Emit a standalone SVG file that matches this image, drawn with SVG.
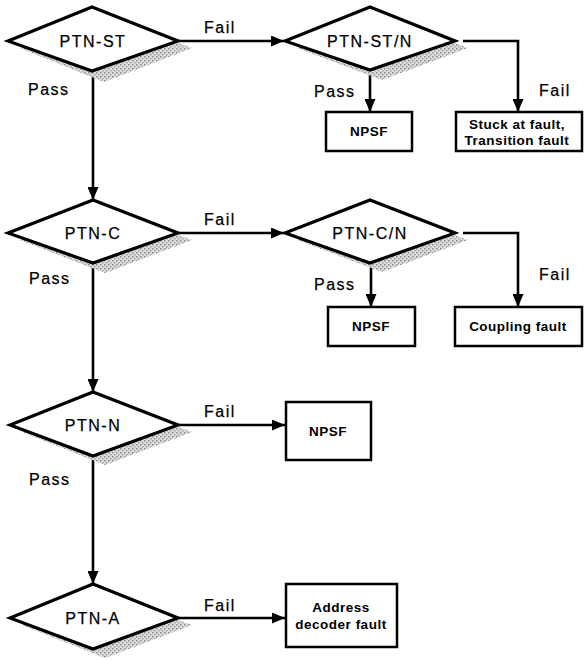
<svg xmlns="http://www.w3.org/2000/svg" width="584" height="660" viewBox="0 0 584 660">
<defs>
  <marker id="arr" markerUnits="userSpaceOnUse" markerWidth="13" markerHeight="11" refX="13" refY="5.5" orient="auto">
    <path d="M0,0 L13,5.5 L0,11 z" fill="#000"/>
  </marker>
  <pattern id="stip" width="4" height="4" patternUnits="userSpaceOnUse">
    <rect width="4" height="4" fill="#dcdcdc"/>
    <rect x="0" y="0" width="1.5" height="1.5" fill="#8a8a8a"/>
    <rect x="2" y="2" width="1.5" height="1.5" fill="#a0a0a0"/>
  </pattern>
</defs>
<style>
  .dia { fill: #fff; stroke: #000; stroke-width: 3.2; stroke-linejoin: miter; }
  .shadow { fill: url(#stip); stroke: none; }
  .box { fill: #fff; stroke: #000; stroke-width: 2.5; }
  .lbl { font-family: "Liberation Sans", Arial, sans-serif; font-size: 16px; letter-spacing: 1.5px; fill: #000; stroke: #000; stroke-width: 0.25; }
  .dt { font-family: "Liberation Sans", Arial, sans-serif; font-size: 16px; letter-spacing: 1.5px; fill: #000; stroke: #000; stroke-width: 0.25; text-anchor: middle; }
  .bt { font-family: "Liberation Sans", Arial, sans-serif; font-size: 13.5px; font-weight: bold; letter-spacing: 0.5px; fill: #000; text-anchor: middle; }
  .con { fill: none; stroke: #000; stroke-width: 2.6; }
</style>
<rect width="584" height="660" fill="#fff"/>

<g id="connectors">
  <line class="con" x1="93" y1="72" x2="93" y2="200" marker-end="url(#arr)"/>
  <line class="con" x1="93" y1="264" x2="93" y2="392" marker-end="url(#arr)"/>
  <line class="con" x1="93" y1="457" x2="93" y2="584" marker-end="url(#arr)"/>
  <line class="con" x1="178" y1="41" x2="284" y2="41" marker-end="url(#arr)"/>
  <line class="con" x1="178" y1="233" x2="284" y2="233" marker-end="url(#arr)"/>
  <line class="con" x1="178" y1="425" x2="285" y2="425" marker-end="url(#arr)"/>
  <line class="con" x1="178" y1="618" x2="285" y2="618" marker-end="url(#arr)"/>
  <line class="con" x1="370" y1="71" x2="370" y2="112" marker-end="url(#arr)"/>
  <line class="con" x1="371" y1="264" x2="371" y2="307" marker-end="url(#arr)"/>
  <polyline class="con" points="463,41 518,41 518,112" marker-end="url(#arr)"/>
  <polyline class="con" points="463,233 518,233 518,307" marker-end="url(#arr)"/>
  <text class="lbl" x="204" y="33">Fail</text>
  <text class="lbl" x="204" y="225">Fail</text>
  <text class="lbl" x="204" y="417">Fail</text>
  <text class="lbl" x="204" y="611">Fail</text>
  <text class="lbl" x="539" y="96">Fail</text>
  <text class="lbl" x="539" y="280">Fail</text>
  <text class="lbl" x="28" y="95">Pass</text>
  <text class="lbl" x="29" y="284">Pass</text>
  <text class="lbl" x="29" y="485">Pass</text>
  <text class="lbl" x="314" y="97">Pass</text>
  <text class="lbl" x="314" y="290">Pass</text>
</g>

<g id="ptn-st">
  <polygon class="shadow" points="20,48 104,16 192,48 104,82"/>
  <polygon class="dia" points="8,41 92,7 178,41 92,71"/>
  <text class="dt" x="93" y="47">PTN-ST</text>
</g>
<g id="ptn-st-n">
  <polygon class="shadow" points="297,48 382,16 468,48 382,80"/>
  <polygon class="dia" points="285,41 370,7 455,41 370,70"/>
  <text class="dt" x="370" y="47">PTN-ST/N</text>
</g>
<g id="npsf-1">
  <rect class="box" x="326" y="112" width="86" height="39"/>
  <text class="bt" x="369" y="136">NPSF</text>
</g>
<g id="stuck">
  <rect class="box" x="456" y="112" width="126" height="39"/>
  <text class="bt" x="517" y="129">Stuck at fault,</text>
  <text class="bt" x="517" y="145">Transition fault</text>
</g>

<g id="ptn-c">
  <polygon class="shadow" points="20,240 105,209 192,240 105,273"/>
  <polygon class="dia" points="8,233 93,200 178,233 93,263"/>
  <text class="dt" x="93" y="239">PTN-C</text>
</g>
<g id="ptn-c-n">
  <polygon class="shadow" points="297,240 382,209 468,240 382,272"/>
  <polygon class="dia" points="285,233 370,200 455,233 370,263"/>
  <text class="dt" x="370" y="239">PTN-C/N</text>
</g>
<g id="npsf-2">
  <rect class="box" x="328" y="307" width="87" height="39"/>
  <text class="bt" x="371" y="331">NPSF</text>
</g>
<g id="coupling">
  <rect class="box" x="455" y="307" width="127" height="39"/>
  <text class="bt" x="518" y="331">Coupling fault</text>
</g>

<g id="ptn-n">
  <polygon class="shadow" points="22,432 105,401 192,432 105,465"/>
  <polygon class="dia" points="10,425 93,392 178,425 93,456"/>
  <text class="dt" x="93" y="431">PTN-N</text>
</g>
<g id="npsf-3">
  <rect class="box" x="286" y="402" width="85" height="58"/>
  <text class="bt" x="328" y="436">NPSF</text>
</g>

<g id="ptn-a">
  <polygon class="shadow" points="22,625 105,594 192,625 105,658"/>
  <polygon class="dia" points="10,618 93,584 178,618 93,649"/>
  <text class="dt" x="93" y="624">PTN-A</text>
</g>
<g id="address">
  <rect class="box" x="286" y="584" width="111" height="63"/>
  <text class="bt" x="341" y="612">Address</text>
  <text class="bt" x="341" y="629">decoder fault</text>
</g>
</svg>
